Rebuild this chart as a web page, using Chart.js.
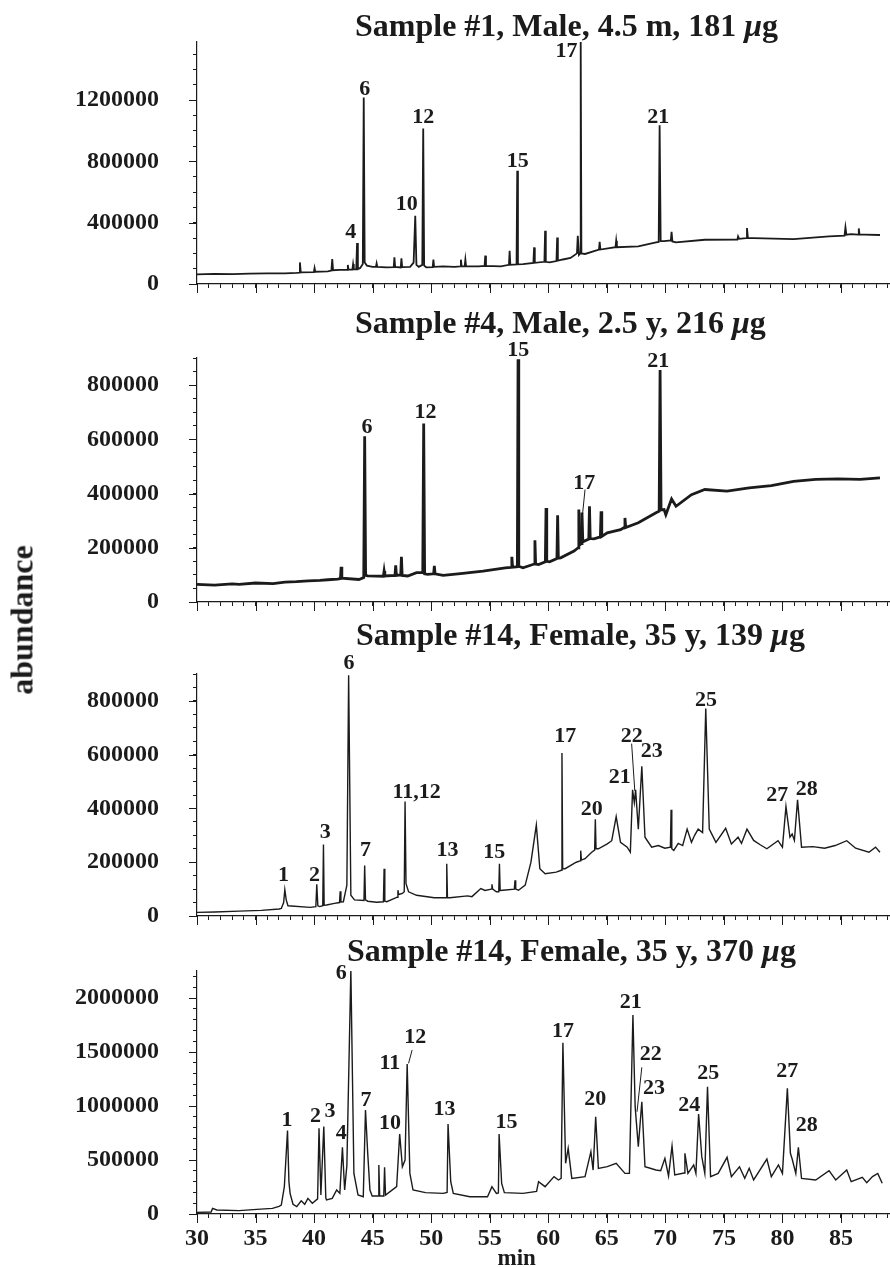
<!DOCTYPE html>
<html>
<head>
<meta charset="utf-8">
<script src="https://cdn.jsdelivr.net/npm/chart.js@4.4.0/dist/chart.umd.min.js"></script>
<style>
  html, body { margin: 0; padding: 0; background: #fff; }
  #wrap { position: relative; width: 890px; height: 1267px; overflow: hidden; }
  canvas { position: absolute; left: 0; }
  #ylab {
    position: absolute; left: 22px; top: 620px;
    transform: translate(-50%, -50%) rotate(-90deg);
    font: bold 32px 'Liberation Serif', 'Times New Roman', serif;
    color: #1b1b1b; white-space: nowrap;
  }
</style>
</head>
<body>
<div id="wrap">
  <canvas id="c1" width="890" height="296" style="top:0px"></canvas>
  <canvas id="c2" width="890" height="316" style="top:298px"></canvas>
  <canvas id="c3" width="890" height="314" style="top:614px"></canvas>
  <canvas id="c4" width="890" height="356" style="top:911px"></canvas>
  <div id="ylab">abundance</div>
</div>
<script>
// retention time (min) / abundance pairs
const trace1 = [[30.00,63000],[31.5,66000],[33.0,64000],[34.5,68000],[36.0,70000],[37.5,70000],[38.52,72000],[38.72,74000],[38.79,141000],[38.86,76000],[39.98,78000],[40.04,104000],[40.10,80000],[41.17,83000],[41.48,88000],[41.55,163000],[41.62,90000],[42.20,92000],[42.82,92000],[42.88,124000],[42.94,94000],[43.27,94000],[43.33,130000],[43.39,96000],[43.60,96000],[43.67,267000],[43.74,98000],[43.94,105000],[44.16,130000],[44.24,1217000],[44.32,140000],[44.51,120000],[45.00,112000],[45.28,112000],[45.34,135000],[45.40,112000],[46.20,108000],[46.80,110000],[46.86,174000],[46.92,112000],[47.40,108000],[47.46,167000],[47.52,110000],[48.20,112000],[48.50,140000],[48.64,446000],[48.74,125000],[48.94,112000],[49.24,125000],[49.32,1015000],[49.40,120000],[49.58,109000],[50.13,110000],[50.19,159000],[50.25,112000],[51.02,115000],[52.00,112000],[52.48,115000],[52.54,159000],[52.60,115000],[52.86,115000],[52.92,159000],[52.98,115000],[54.05,115000],[54.56,118000],[54.62,185000],[54.68,118000],[55.95,115000],[56.64,125000],[56.70,217000],[56.76,125000],[57.29,128000],[57.35,739000],[57.41,128000],[57.84,130000],[58.73,138000],[58.79,239000],[58.85,138000],[59.67,145000],[59.73,348000],[59.79,145000],[60.11,141000],[60.70,150000],[60.76,304000],[60.82,152000],[61.25,160000],[61.90,170000],[62.45,200000],[62.52,315000],[62.62,190000],[62.72,200000],[62.77,1590000],[62.83,200000],[63.14,196000],[64.33,225000],[64.39,276000],[64.45,225000],[65.74,240000],[65.80,283000],[65.86,240000],[67.69,246000],[69.20,272000],[69.43,275000],[69.51,1037000],[69.60,280000],[69.89,280000],[70.47,285000],[70.53,341000],[70.60,278000],[70.91,272000],[73.37,289000],[76.15,290000],[76.21,311000],[76.30,295000],[76.90,300000],[76.97,365000],[77.05,300000],[77.54,300000],[80.95,293000],[83.98,311000],[85.30,315000],[85.38,370000],[85.46,322000],[85.87,326000],[86.46,322000],[86.52,363000],[86.58,322000],[87.01,322000],[88.33,320000]];

const trace2 = [[30.00,65000],[31.5,62000],[33.0,67000],[33.60,65000],[35.0,70000],[36.5,68000],[37.5,73000],[38.5,75000],[39.5,78000],[40.5,80000],[41.17,82000],[42.0,84000],[42.25,86000],[42.31,130000],[42.37,88000],[43.83,83000],[44.24,90000],[44.32,611000],[44.40,98000],[44.58,96000],[45.92,95000],[45.98,114000],[46.04,96000],[46.91,98000],[46.97,135000],[47.03,98000],[47.40,100000],[47.46,167000],[47.52,98000],[47.99,96000],[48.75,108000],[49.28,108000],[49.36,658000],[49.44,104000],[49.70,102000],[50.21,104000],[50.27,133000],[50.33,104000],[51.02,98000],[52.5,105000],[54.43,114000],[56.33,126000],[56.83,128000],[56.89,167000],[56.95,128000],[57.36,130000],[57.42,895000],[57.48,132000],[57.84,126000],[58.80,140000],[58.86,228000],[58.92,140000],[59.17,138000],[59.75,148000],[59.81,347000],[59.87,150000],[60.11,148000],[60.74,160000],[60.80,320000],[60.86,162000],[61.06,163000],[62.20,188000],[62.55,200000],[62.61,341000],[62.67,210000],[62.81,215000],[62.88,330000],[62.95,222000],[63.46,232000],[63.52,353000],[63.58,234000],[63.90,233000],[64.45,240000],[64.51,335000],[64.57,242000],[65.04,255000],[66.17,267000],[66.49,275000],[66.55,310000],[66.61,275000],[67.69,292000],[69.20,329000],[69.47,335000],[69.55,856000],[69.63,340000],[69.89,341000],[70.04,322000],[70.53,380000],[70.91,353000],[72.23,396000],[73.37,415000],[75.27,409000],[77.16,421000],[79.05,429000],[80.95,445000],[82.84,452000],[84.73,454000],[86.63,452000],[88.33,458000]];

const trace3 = [[30.00,13500],[31.5,15000],[33.60,18000],[35.5,21000],[37.01,26000],[37.20,28000],[37.40,50000],[37.50,98000],[37.62,60000],[37.77,38000],[39.66,32000],[40.15,35000],[40.23,118000],[40.32,38000],[40.49,35000],[40.74,38000],[40.80,266000],[40.86,40000],[41.06,41000],[41.74,47000],[42.17,50000],[42.23,92000],[42.29,52000],[42.50,53000],[42.80,115000],[42.95,895000],[43.14,77000],[43.45,60000],[44.26,58000],[44.32,188000],[44.39,60000],[44.58,55000],[45.34,51000],[45.92,53000],[45.98,176000],[46.04,55000],[46.21,53000],[47.10,70000],[47.16,96000],[47.22,80000],[47.54,84000],[47.70,90000],[47.77,426000],[47.85,120000],[48.07,90000],[48.75,77000],[50.27,68000],[51.27,68000],[51.33,194000],[51.39,68000],[51.59,68000],[53.11,75000],[53.48,72000],[54.24,102000],[54.6,95000],[55.13,100000],[55.19,118000],[55.25,100000],[55.57,90000],[55.77,90000],[55.83,194000],[55.89,95000],[56.14,96000],[57.10,100000],[57.16,133000],[57.22,100000],[57.46,96000],[58.03,115000],[58.52,200000],[58.98,338000],[59.28,176000],[59.73,157000],[60.68,163000],[61.11,170000],[61.17,606000],[61.23,176000],[61.44,176000],[62.39,200000],[62.71,205000],[62.77,243000],[62.83,208000],[63.14,213000],[63.71,237000],[63.96,245000],[64.02,360000],[64.08,250000],[64.28,250000],[65.04,268000],[65.42,280000],[65.80,370000],[66.17,274000],[66.74,256000],[67.01,237000],[67.20,469000],[67.35,422000],[67.46,469000],[67.69,323000],[67.99,557000],[68.26,293000],[68.83,256000],[69.40,262000],[69.96,252000],[70.43,256000],[70.49,395000],[70.55,250000],[70.72,244000],[71.10,270000],[71.48,262000],[71.86,323000],[72.23,274000],[72.50,300000],[72.80,323000],[73.18,310000],[73.45,772000],[73.75,323000],[74.32,274000],[75.15,326000],[75.64,268000],[76.21,293000],[76.50,270000],[76.97,323000],[77.54,281000],[78.10,265000],[78.67,250000],[79.62,280000],[80.00,256000],[80.30,407000],[80.64,293000],[80.83,305000],[81.02,281000],[81.29,432000],[81.63,256000],[82.60,258000],[83.60,252000],[84.50,262000],[85.49,280000],[86.25,252000],[87.39,237000],[87.95,256000],[88.33,237000]];

const trace4 = [[30.00,15000],[31.20,18000],[31.33,52000],[31.70,37000],[33.60,31000],[35.11,43000],[36.44,52000],[37.01,70000],[37.20,83000],[37.46,253000],[37.73,772000],[37.85,300000],[37.95,191000],[38.20,90000],[38.52,68000],[38.90,123000],[39.2,90000],[39.47,145000],[39.85,99000],[40.30,140000],[40.42,793000],[40.58,176000],[40.83,809000],[41.00,150000],[41.06,130000],[41.55,145000],[41.93,222000],[42.20,191000],[42.42,617000],[42.61,222000],[42.80,450000],[43.14,2259000],[43.40,376000],[43.75,176000],[44.20,160000],[44.39,963000],[44.58,562000],[44.77,222000],[44.96,167000],[45.47,167000],[45.53,454000],[45.60,167000],[45.95,167000],[46.02,432000],[46.10,175000],[47.05,253000],[47.31,741000],[47.54,438000],[47.77,500000],[47.95,1389000],[48.18,376000],[48.45,222000],[49.51,198000],[51.02,191000],[51.36,200000],[51.44,833000],[51.67,299000],[51.89,191000],[53.30,160000],[54.81,160000],[55.19,253000],[55.57,191000],[55.74,195000],[55.80,741000],[56.02,284000],[56.25,198000],[57.84,191000],[59.0,210000],[59.17,299000],[59.73,253000],[60.49,346000],[60.87,315000],[61.10,330000],[61.25,1586000],[61.48,469000],[61.70,608000],[62.01,330000],[63.14,346000],[63.64,577000],[63.83,407000],[64.05,901000],[64.28,423000],[65.04,438000],[65.80,469000],[66.55,376000],[66.93,376000],[67.23,1842000],[67.42,994000],[67.69,623000],[67.99,1040000],[68.26,438000],[69.20,407000],[69.60,400000],[69.96,515000],[70.27,352000],[70.57,630000],[70.80,361000],[71.60,380000],[71.67,562000],[71.93,376000],[72.42,454000],[72.61,376000],[72.84,926000],[73.11,531000],[73.37,376000],[73.60,1179000],[73.86,346000],[74.51,376000],[75.27,525000],[75.64,346000],[76.33,438000],[76.78,330000],[77.16,423000],[77.54,315000],[78.67,509000],[79.05,346000],[79.66,454000],[80.00,376000],[80.42,1163000],[80.68,562000],[80.83,509000],[81.14,376000],[81.36,617000],[81.63,330000],[82.84,315000],[83.98,401000],[84.55,315000],[85.49,407000],[85.87,299000],[86.82,339000],[87.20,290000],[87.69,346000],[88.14,376000],[88.52,284000]];

// peak numbers: label, time, abundance where the label sits
const peaks1 = [['4',43.14,337000],['6',44.32,1272000],['10',47.92,522000],['12',49.32,1091000],['15',57.39,804000],['17',61.55,1522000],['21',69.39,1091000]];
const peaks2 = [['6',44.51,645000],['12',49.51,699000],['15',57.44,928000],['17',63.07,439000],['21',69.39,887000]];
const peaks3 = [['1',37.39,151000],['2',40.04,151000],['3',40.95,311000],['6',42.99,938000],['7',44.39,244000],['11,12',48.75,461000],['13',51.40,244000],['15',55.38,237000],['17',61.44,668000],['20',63.71,397000],['21',66.10,514000],['22',67.12,668000],['23',68.83,613000],['25',73.48,803000],['27',79.55,447000],['28',82.08,471000]];
const peaks4 = [['1',37.69,870000],['2',40.11,901000],['3',41.36,947000],['4',42.31,747000],['6',42.31,2228000],['7',44.43,1055000],['10',46.48,839000],['11',46.48,1395000],['12',48.64,1636000],['13',51.14,969000],['15',56.44,849000],['17',61.25,1688000],['20',64.02,1062000],['21',67.05,1957000],['22',68.75,1478000],['23',69.02,1163000],['24',72.05,1009000],['25',73.67,1302000],['27',80.42,1318000],['28',82.08,824000]];

// leader lines from a label to its peak: t1, v1, t2, v2
const leads2 = [[63.14,415000,62.88,304000]];
const leads3 = [[67.12,641000,67.39,465000]];
const leads4 = [[48.37,1518000,48.07,1395000],[67.99,1358000,67.58,947000]];

const titles = ['Sample #1, Male, 4.5 m, 181 μg', 'Sample #4, Male, 2.5 y, 216 μg', 'Sample #14, Female, 35 y, 139 μg', 'Sample #14, Female, 35 y, 370 μg'];
const yMax = [1580000, 900000, 900000, 2250000];
const yMinor = [100000, 50000, 50000, 100000];
const yLabels1 = [0, 400000, 800000, 1200000];
const yLabels2 = [0, 200000, 400000, 600000, 800000];
const yLabels3 = [0, 200000, 400000, 600000, 800000];
const yLabels4 = [0, 500000, 1000000, 1500000, 2000000];
const minuteLabels = [30, 35, 40, 45, 50, 55, 60, 65, 70, 75, 80, 85];

const ink = '#1b1b1b';
const serif = "'Liberation Serif', 'Times New Roman', Times, serif";

function notesFor(p) {
  return {
    id: 'notes' + p.id,
    afterDraw(chart) {
      const { ctx, chartArea: a, scales: { x, y } } = chart;
      ctx.save();
      ctx.fillStyle = ink;
      ctx.strokeStyle = ink;

      // longer marks for the labelled ticks
      ctx.lineWidth = 1;
      ctx.beginPath();
      minuteLabels.forEach(m => {
        const px = Math.round(x.getPixelForValue(m)) + 0.5;
        ctx.moveTo(px, a.bottom);
        ctx.lineTo(px, a.bottom + 9);
      });
      p.yLabels.forEach(v => {
        const py = Math.round(y.getPixelForValue(v)) + 0.5;
        ctx.moveTo(a.left, py);
        ctx.lineTo(a.left - 8, py);
      });
      ctx.stroke();

      // panel heading, the mu set in italic
      const parts = p.title.split('μ');
      let tx = p.titleX;
      const ty = a.top + p.titleDy;
      ctx.textAlign = 'left';
      ctx.textBaseline = 'alphabetic';
      ctx.font = 'bold 32px ' + serif;
      ctx.fillText(parts[0], tx, ty);
      tx += ctx.measureText(parts[0]).width;
      ctx.font = 'italic bold 32px ' + serif;
      ctx.fillText('μ', tx, ty);
      tx += ctx.measureText('μ').width;
      ctx.font = 'bold 32px ' + serif;
      ctx.fillText(parts[1], tx, ty);

      ctx.font = 'bold 22px ' + serif;
      ctx.textAlign = 'center';
      ctx.textBaseline = 'middle';
      p.peaks.forEach(([name, t, v]) => {
        ctx.fillText(name, x.getPixelForValue(t), y.getPixelForValue(v));
      });

      p.leads.forEach(([t1, v1, t2, v2]) => {
        ctx.beginPath();
        ctx.moveTo(x.getPixelForValue(t1), y.getPixelForValue(v1));
        ctx.lineTo(x.getPixelForValue(t2), y.getPixelForValue(v2));
        ctx.stroke();
      });

      if (p.xLabels) {
        ctx.font = 'bold 23px ' + serif;
        ctx.fillText('min', x.getPixelForValue(57.3), a.bottom + 45);
      }
      ctx.restore();
    }
  };
}

function draw(p) {
  new Chart(document.getElementById('c' + p.id), {
    type: 'line',
    data: {
      datasets: [{
        data: p.trace.map(([t, v]) => ({ x: t, y: v })),
        borderColor: ink,
        borderWidth: p.lw,
        pointRadius: 0,
        tension: 0,
        fill: false
      }]
    },
    options: {
      responsive: false,
      animation: false,
      devicePixelRatio: 1,
      layout: { padding: { top: p.padTop, right: 1, bottom: 0, left: 0 } },
      plugins: { legend: { display: false }, tooltip: { enabled: false }, title: { display: false } },
      scales: {
        x: {
          type: 'linear', min: 30, max: 89.1,
          border: { display: true, color: ink, width: 1.2 },
          grid: { drawOnChartArea: false, drawTicks: true, tickLength: 4, color: ink, lineWidth: 1 },
          afterBuildTicks: s => {
            const out = [];
            for (let m = 30; m <= 89; m++) out.push({ value: m });
            s.ticks = out;
          },
          ticks: {
            autoSkip: false, maxRotation: 0, padding: 6,
            color: ink, font: { family: serif, size: 24, weight: 'bold' },
            callback: v => (p.xLabels && minuteLabels.includes(v) ? String(v) : '')
          },
          afterFit: s => { s.height = p.xH; s.paddingLeft = 0; s.paddingRight = 0; }
        },
        y: {
          type: 'linear', min: 0, max: p.yMax,
          border: { display: true, color: ink, width: 1.2 },
          grid: { drawOnChartArea: false, drawTicks: true, tickLength: 4, color: ink, lineWidth: 1 },
          afterBuildTicks: s => {
            const out = [];
            for (let k = 0; k * p.minor <= p.yMax; k++) out.push({ value: k * p.minor });
            s.ticks = out;
          },
          ticks: {
            autoSkip: false, padding: 34,
            color: ink, font: { family: serif, size: 24, weight: 'bold' },
            callback: v => (p.yLabels.includes(v) ? String(v) : '')
          },
          afterFit: s => { s.width = 197; s.paddingTop = 0; s.paddingBottom = 0; }
        }
      }
    },
    plugins: [notesFor(p)]
  });
}

draw({ id: 1, trace: trace1, peaks: peaks1, leads: [], title: titles[0], titleX: 355, titleDy: -6, padTop: 42, xH: 12, yMax: yMax[0], minor: yMinor[0], yLabels: yLabels1, lw: 1.8, xLabels: false });
draw({ id: 2, trace: trace2, peaks: peaks2, leads: leads2, title: titles[1], titleX: 355, titleDy: -25, padTop: 60, xH: 12, yMax: yMax[1], minor: yMinor[1], yLabels: yLabels2, lw: 2.8, xLabels: false });
draw({ id: 3, trace: trace3, peaks: peaks3, leads: leads3, title: titles[2], titleX: 356, titleDy: -29, padTop: 60, xH: 12, yMax: yMax[2], minor: yMinor[2], yLabels: yLabels3, lw: 1.4, xLabels: false });
draw({ id: 4, trace: trace4, peaks: peaks4, leads: leads4, title: titles[3], titleX: 347, titleDy: -10, padTop: 60, xH: 53, yMax: yMax[3], minor: yMinor[3], yLabels: yLabels4, lw: 1.4, xLabels: true });
</script>
</body>
</html>
